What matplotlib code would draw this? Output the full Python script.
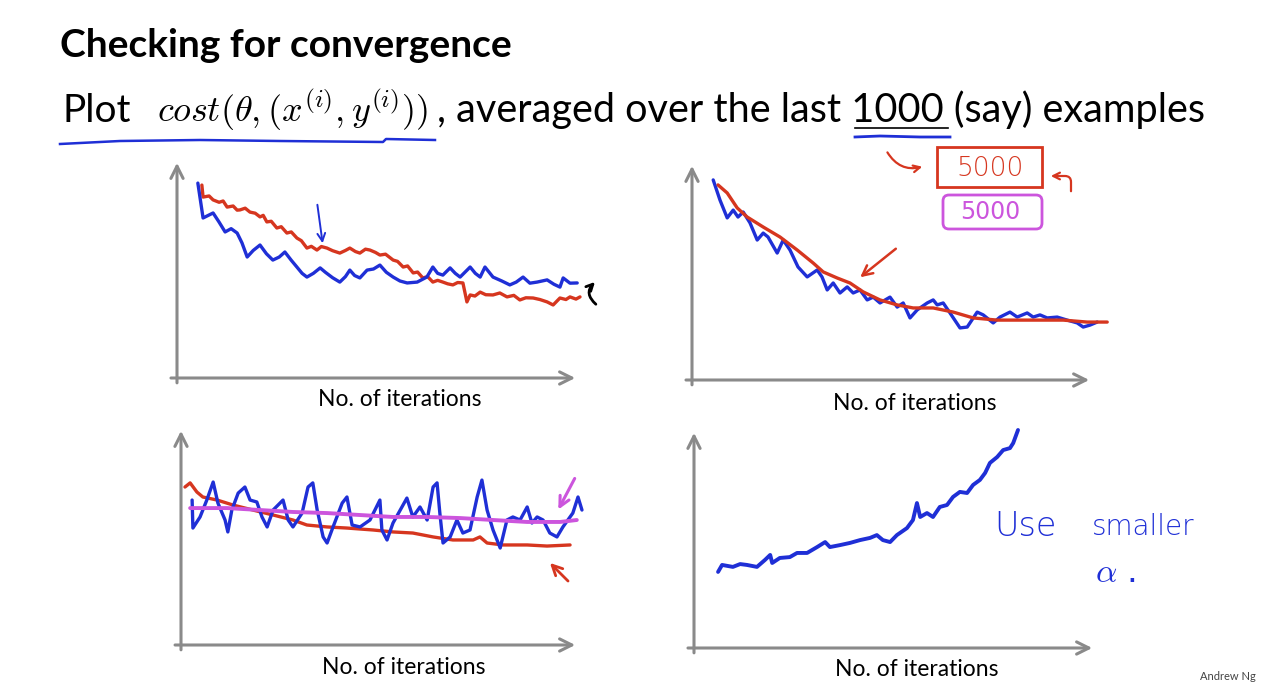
import matplotlib.pyplot as plt
from matplotlib.patches import Rectangle, FancyBboxPatch
import numpy as np

plt.rcParams['mathtext.fontset'] = 'cm'

W, H = 1280, 683

# ---------------- data (iterations 0-100, cost 0-100) ----------------
tl_blue = [(5.2, 89.4), (6.5, 73.4), (9.0, 75.7), (10.5, 71.5), (12.0, 67.0), (13.5, 68.5),
           (15.0, 66.5), (16.2, 62.0), (17.5, 55.5), (19.0, 58.5), (20.7, 61.0), (22.3, 57.0),
           (23.9, 54.1), (25.5, 55.5), (26.9, 57.8), (28.5, 54.0), (29.9, 50.9), (31.2, 48.0),
           (32.4, 46.3), (34.0, 48.0), (35.7, 50.5), (37.0, 48.5), (38.8, 46.0), (40.6, 44.0),
           (42.0, 46.5), (43.1, 49.5), (44.3, 47.0), (45.6, 45.9), (47.4, 49.5), (49.0, 50.0),
           (50.6, 51.8), (52.2, 48.5), (53.9, 46.3), (55.6, 44.5), (57.4, 43.6), (59.9, 44.0),
           (62.3, 46.3), (63.8, 50.9), (65.0, 48.0), (66.3, 47.2), (68.1, 50.5), (69.4, 48.0),
           (70.6, 46.3), (73.1, 50.9), (74.4, 48.0), (75.6, 46.3), (76.8, 50.9), (78.8, 46.3),
           (81.0, 44.5), (83.0, 42.7), (84.6, 44.0), (86.3, 46.3), (88.0, 43.5), (89.8, 44.0),
           (92.3, 45.0), (94.0, 43.0), (95.5, 41.7), (96.3, 45.9), (98.0, 43.5), (99.8, 43.6)]

tl_red = [(6.2, 88.5), (6.5, 83.0), (8.0, 83.5), (9.0, 81.7), (10.5, 80.6), (11.5, 81.2),
          (12.5, 78.4), (14.0, 78.9), (15.0, 77.0), (15.7, 77.1), (17.0, 77.9), (18.2, 76.1),
          (19.5, 75.6), (20.7, 73.9), (21.5, 74.6), (22.4, 71.6), (23.5, 71.9), (24.9, 68.8),
          (26.0, 69.4), (27.4, 66.5), (28.5, 67.0), (29.9, 64.2), (31.0, 63.0), (32.4, 59.6),
          (33.5, 60.4), (34.9, 58.7), (36.0, 60.3), (37.4, 59.6), (38.8, 58.4), (40.6, 57.3),
          (42.0, 58.5), (43.1, 59.6), (44.5, 58.0), (45.6, 57.3), (47.0, 59.1), (48.1, 58.7),
          (49.5, 57.6), (50.6, 56.4), (52.0, 56.8), (53.9, 54.1), (55.0, 53.5), (56.4, 50.9),
          (57.5, 51.4), (58.9, 48.2), (60.0, 48.6), (61.3, 45.9), (62.5, 46.5), (63.8, 44.0),
          (65.0, 44.8), (66.3, 44.0), (67.5, 43.2), (68.8, 42.7), (70.0, 43.8), (71.3, 43.6),
          (72.3, 34.9), (73.1, 38.1), (74.3, 37.6), (75.6, 39.4), (77.0, 38.2), (78.8, 38.1),
          (80.5, 39.0), (82.3, 37.2), (84.0, 37.9), (85.5, 35.8), (87.0, 36.8), (88.8, 36.7),
          (90.5, 36.0), (92.3, 34.9), (93.8, 33.5), (95.5, 36.7), (97.0, 36.0), (98.0, 37.2),
          (99.5, 36.2), (100.5, 37.2)]

tr_blue = [(5.3, 92.2), (7.0, 82.9), (8.8, 74.7), (10.3, 78.3), (11.5, 75.1), (12.8, 77.4),
           (14.5, 72.4), (16.3, 64.5), (17.8, 67.7), (19.0, 65.9), (21.3, 58.5), (22.8, 64.5),
           (24.5, 59.9), (26.5, 52.1), (28.8, 47.5), (31.3, 50.7), (32.5, 47.5), (33.8, 41.5),
           (35.3, 44.7), (37.0, 40.1), (38.8, 42.9), (40.3, 40.1), (42.0, 41.5), (43.8, 36.9),
           (45.3, 38.2), (47.0, 35.5), (49.5, 38.2), (51.3, 33.6), (52.8, 35.5), (54.5, 28.6),
           (56.3, 32.3), (58.8, 35.5), (60.3, 36.9), (61.3, 34.6), (62.8, 35.5), (64.5, 30.9),
           (67.0, 24.0), (68.8, 24.4), (71.3, 31.3), (72.8, 30.0), (75.3, 26.3), (77.0, 29.0),
           (79.5, 31.3), (81.3, 29.0), (83.8, 30.9), (85.3, 29.0), (87.0, 30.0), (88.8, 28.6),
           (91.3, 29.0), (93.8, 27.6), (96.3, 26.3), (97.8, 24.4), (99.5, 25.3), (101.3, 26.7)]

tr_red = [(6.5, 89.9), (8.8, 86.2), (11.3, 79.3), (13.8, 75.1), (17.8, 70.5), (22.0, 65.9),
          (26.3, 59.9), (30.3, 53.9), (32.8, 49.8), (36.3, 47.0), (39.5, 44.7), (42.8, 40.6),
          (47.0, 36.9), (51.3, 34.6), (55.3, 33.2), (60.3, 33.2), (65.3, 31.3), (70.3, 28.6),
          (76.3, 27.6), (84.5, 27.6), (92.8, 27.6), (98.8, 26.7), (103.8, 26.7)]

bl_blue = [(2.8, 66.8), (3.0, 53.9), (4.8, 59.0), (6.5, 66.8), (8.1, 75.1), (9.3, 65.4),
           (11.1, 57.6), (11.8, 52.1), (12.8, 62.2), (14.4, 70.0), (16.1, 72.8), (17.4, 66.8),
           (19.1, 65.9), (20.4, 59.0), (21.7, 54.4), (23.2, 62.2), (25.7, 66.8), (27.0, 57.6),
           (28.2, 54.4), (30.5, 60.8), (32.0, 72.8), (33.2, 74.7), (34.3, 62.2), (35.8, 49.8),
           (36.8, 47.0), (38.3, 54.4), (40.6, 65.4), (41.8, 68.2), (43.1, 55.3), (45.1, 54.4),
           (47.6, 57.6), (50.1, 66.8), (50.6, 53.0), (51.9, 48.4), (53.4, 56.2), (56.9, 67.7),
           (58.4, 59.0), (60.2, 63.6), (62.0, 57.6), (63.5, 72.8), (64.5, 74.7), (65.2, 60.8),
           (66.0, 47.0), (67.8, 49.8), (69.5, 57.6), (71.0, 51.6), (72.8, 53.0), (74.6, 68.2),
           (75.8, 76.0), (77.1, 62.2), (78.6, 53.0), (80.4, 44.7), (82.1, 57.6), (83.6, 59.0),
           (85.4, 57.6), (87.2, 63.6), (88.4, 56.2), (89.7, 59.0), (91.2, 57.6), (92.9, 51.6),
           (94.7, 49.8), (96.2, 54.4), (98.7, 60.8), (100.0, 68.2), (101.0, 62.2)]

bl_red = [(1.0, 72.8), (2.3, 74.7), (4.0, 70.5), (5.5, 68.2), (9.1, 66.8), (13.1, 64.5),
          (18.1, 62.2), (23.2, 59.9), (28.2, 57.6), (31.7, 55.3), (36.8, 54.4), (41.8, 53.9),
          (48.4, 53.0), (53.4, 52.1), (58.4, 51.6), (63.5, 49.8), (68.5, 48.4), (73.6, 48.4),
          (75.3, 49.8), (77.1, 47.0), (81.1, 46.1), (87.2, 46.1), (92.2, 45.6), (98.0, 46.1)]

bl_magenta = [(2.3, 63.1), (11.6, 63.1), (19.9, 62.2), (28.2, 61.3), (36.8, 60.8), (45.1, 59.9),
              (53.4, 59.0), (62.0, 59.0), (70.3, 58.5), (78.6, 57.6), (87.2, 56.7), (95.5, 56.7),
              (99.7, 57.6)]

br_blue = [(6.0, 34.9), (7.0, 38.1), (9.7, 37.2), (11.5, 38.5), (13.2, 38.1), (15.7, 37.2),
           (17.7, 40.4), (19.0, 42.7), (19.5, 39.0), (21.4, 41.3), (23.9, 41.7), (25.7, 43.6),
           (28.2, 43.6), (30.7, 46.3), (32.7, 48.6), (33.9, 46.3), (36.4, 47.2), (38.9, 48.2),
           (41.4, 49.5), (43.9, 50.5), (45.6, 51.8), (47.1, 49.5), (48.9, 48.6), (50.6, 51.8),
           (53.1, 55.0), (54.6, 58.7), (55.6, 66.5), (56.4, 60.1), (58.1, 61.9), (59.6, 60.1),
           (61.3, 64.7), (63.1, 65.6), (64.6, 69.3), (66.3, 71.6), (68.1, 71.1), (69.6, 74.8),
           (71.3, 77.1), (72.6, 80.3), (73.8, 84.9), (75.6, 87.6), (77.1, 90.8), (78.8, 91.7),
           (79.6, 94.0), (80.8, 100.0)]

BLUE = '#1f2fd6'
RED = '#d6361f'
MAGENTA = '#cc55dd'
GREY = '#8a8a8a'


def fx(px):
    return px / W


def fy(py):
    return 1 - py / H


def make_panel(fig, left, right, bottom, top):
    ax = fig.add_axes([fx(left), fy(bottom), (right - left) / W, (bottom - top) / H])
    ax.set_xlim(0, 100)
    ax.set_ylim(0, 100)
    ax.axis('off')
    ax.annotate('', xy=(1, 0), xytext=(-0.022, 0), xycoords='axes fraction',
                arrowprops=dict(arrowstyle='->', color=GREY, lw=2.2, mutation_scale=22))
    ax.annotate('', xy=(0, 1), xytext=(0, -0.035), xycoords='axes fraction',
                arrowprops=dict(arrowstyle='->', color=GREY, lw=2.2, mutation_scale=22))
    return ax


def draw(ax, pts, color, lw=2.4):
    x, y = np.array(pts).T
    ax.plot(x, y, color=color, lw=lw, clip_on=False, solid_joinstyle='round',
            solid_capstyle='round')


fig = plt.figure(figsize=(12.8, 6.83), dpi=100)
fig.patch.set_facecolor('white')

ax_tl = make_panel(fig, 177, 578, 378, 160)
draw(ax_tl, tl_red, RED)
draw(ax_tl, tl_blue, BLUE)

ax_tr = make_panel(fig, 692, 1092, 380, 163)
draw(ax_tr, tr_blue, BLUE)
draw(ax_tr, tr_red, RED)

ax_bl = make_panel(fig, 181, 578, 645, 428)
draw(ax_bl, bl_red, RED)
draw(ax_bl, bl_blue, BLUE)
draw(ax_bl, bl_magenta, MAGENTA, lw=2.8)

ax_br = make_panel(fig, 694, 1095, 648, 430)
draw(ax_br, br_blue, BLUE, lw=2.8)

# ---------------- overlay for slide text and pen annotations (pixel coords) ----------------
ink = fig.add_axes([0, 0, 1, 1], zorder=5)
ink.set_xlim(0, W)
ink.set_ylim(H, 0)
ink.axis('off')
ink.patch.set_alpha(0)

font = 'Lato'
ink.text(60, 57, 'Checking for convergence', fontsize=28, fontweight='bold',
         family=font, va='baseline', ha='left')
ink.text(62, 122, 'Plot', fontsize=28, family=font, va='baseline', ha='left')
ink.text(157, 122, r'$cost(\theta,(x^{(i)},y^{(i)}))$', fontsize=26, va='baseline', ha='left')
ink.text(437, 122, ', averaged over the last 1000 (say) examples', fontsize=28.5,
         family=font, va='baseline', ha='left')

for cx, cy in [(400, 400), (915, 403), (404, 667), (917, 669)]:
    ink.text(cx, cy, 'No. of iterations', fontsize=16.5, family=font, ha='center', va='center')

ink.text(1200, 682, 'Andrew Ng', fontsize=8, family=font, color='#444444', ha='left', va='bottom')

# underlines
ink.plot([855, 948], [128, 128], color='black', lw=1.2)
ink.plot([855, 880, 920, 950], [137, 136, 137, 137], color=BLUE, lw=2)
ink.plot([60, 120, 200, 280, 383, 386, 435], [144, 141, 140, 141, 142, 139, 140], color=BLUE, lw=1.8)

# top-left pen marks
ink.annotate('', xy=(323, 246), xytext=(317, 202),
             arrowprops=dict(arrowstyle='->', color=BLUE, lw=1.4, mutation_scale=14))
ink.annotate('', xy=(597, 280), xytext=(598, 306),
             arrowprops=dict(arrowstyle='->', color='black', lw=2.0, mutation_scale=12,
                             connectionstyle='arc3,rad=-0.6'))

# top-right pen marks
ink.annotate('', xy=(858, 279), xytext=(898, 247),
             arrowprops=dict(arrowstyle='->', color=RED, lw=1.8, mutation_scale=18))
ink.add_patch(Rectangle((937, 147), 105, 40, fill=False, ec=RED, lw=2))
ink.text(990, 168, '5000', color=RED, fontsize=19, family='DejaVu Sans',
         ha='center', va='center', fontweight='light')
ink.add_patch(FancyBboxPatch((945, 197), 95, 30, boxstyle='round,pad=2,rounding_size=6',
                             fill=False, ec=MAGENTA, lw=2))
ink.text(990, 212, '5000', color=MAGENTA, fontsize=17, family='DejaVu Sans',
         ha='center', va='center')
ink.annotate('', xy=(925, 166), xytext=(886, 150),
             arrowprops=dict(arrowstyle='->', color=RED, lw=1.6, mutation_scale=12,
                             connectionstyle='arc3,rad=0.4'))
ink.annotate('', xy=(1048, 176), xytext=(1071, 194),
             arrowprops=dict(arrowstyle='->', color=RED, lw=1.6, mutation_scale=12,
                             connectionstyle='angle,angleA=90,angleB=0,rad=6'))

# bottom-left pen marks
ink.annotate('', xy=(557, 512), xytext=(576, 476),
             arrowprops=dict(arrowstyle='->', color=MAGENTA, lw=2.2, mutation_scale=18))
ink.annotate('', xy=(548, 561), xytext=(570, 583),
             arrowprops=dict(arrowstyle='->', color=RED, lw=2.0, mutation_scale=18))

# bottom-right handwriting
ink.text(1025, 527, 'Use', color=BLUE, fontsize=24, family='DejaVu Sans',
         fontweight='light', ha='center', va='center')
ink.text(1143, 527, 'smaller', color=BLUE, fontsize=20, family='DejaVu Sans',
         fontweight='light', ha='center', va='center')
ink.text(1116, 572, r'$\alpha$ .', color=BLUE, fontsize=24, ha='center', va='center')

fig.savefig('out.png', dpi=100, facecolor='white')
